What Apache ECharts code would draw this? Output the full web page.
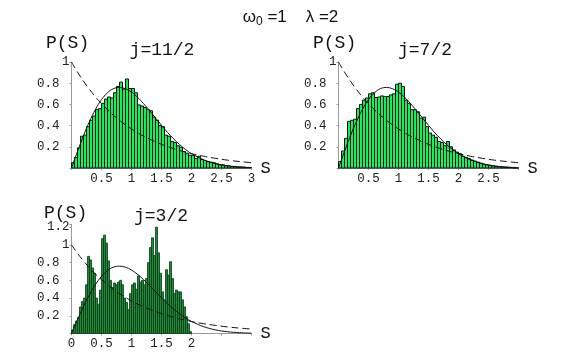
<!DOCTYPE html>
<html><head><meta charset="utf-8">
<script src="https://cdn.jsdelivr.net/npm/echarts@6/dist/echarts.min.js"></script>
<style>html,body{margin:0;padding:0;background:#fff}#c{width:581px;height:359px}</style>
</head><body><div id="c"></div>
<script>
// ---- data ----
const binWidthA = 0.05;           // bins of panels j=11/2 and j=7/2
const histJ11 = [0.05,0.10,0.19,0.30,0.31,0.39,0.45,0.49,0.55,0.56,
                 0.61,0.65,0.67,0.66,0.71,0.77,0.81,0.745,0.84,0.75,
                 0.75,0.71,0.595,0.585,0.57,0.55,0.54,0.48,0.45,0.40,
                 0.39,0.31,0.30,0.25,0.24,0.21,0.195,0.155,0.14,0.12,
                 0.12,0.09,0.11,0.08,0.07,0.06,0.055,0.05,0.04,0.03,
                 0.03,0.022,0.02,0.015,0.015,0.01,0.01,0.008,0.005,0.005];
const histJ7 = [0.06,0.16,0.28,0.44,0.45,0.46,0.56,0.60,0.64,0.66,
                0.70,0.71,0.665,0.67,0.68,0.675,0.675,0.69,0.70,0.79,
                0.80,0.77,0.64,0.61,0.55,0.55,0.53,0.47,0.48,0.39,
                0.33,0.31,0.29,0.25,0.24,0.21,0.25,0.20,0.17,0.15,
                0.135,0.11,0.10,0.09,0.075,0.065,0.055,0.045,0.035,0.03,
                0.025,0.02,0.015,0.012,0.01,0.008,0.006,0.004,0,0];
const binWidthB = 1/30;           // bins of panel j=3/2
const histJ3 = [0.04,0.10,0.14,0.18,0.30,0.36,0.40,0.55,0.87,0.83,
                0.74,0.68,0.40,0.33,0.49,1.07,1.11,1.02,0.82,0.60,
                0.52,0.57,0.55,0.58,0.60,0.55,0.40,0.35,0.27,0.45,
                0.55,0.57,0.50,0.65,0.58,0.60,0.55,0.62,0.80,0.97,
                1.08,0.88,1.20,0.91,0.68,0.47,0.38,0.72,0.66,0.81,
                0.62,0.45,0.49,0.47,0.47,0.38,0.30,0.19,0.11,0.02];
// reference curves (solid and dashed), read at these S values
const curveS  = [0,0.1,0.2,0.3,0.4,0.5,0.6,0.7,0.8,0.9,1.0,1.1,1.2,1.3,1.4,1.5,1.6,1.7,1.8,1.9,2.0,2.2,2.4,2.6,2.8,3.0];
const solidP  = [0,0.156,0.305,0.439,0.554,0.645,0.710,0.749,0.760,0.748,0.716,0.668,0.608,0.542,0.472,0.403,0.336,0.276,0.222,0.175,0.136,0.078,0.041,0.020,0.009,0.004];
const dashedP = [1,0.905,0.819,0.741,0.670,0.607,0.549,0.497,0.449,0.407,0.368,0.333,0.301,0.273,0.247,0.223,0.202,0.183,0.165,0.150,0.135,0.111,0.091,0.074,0.061,0.050];
const yTicks = [0.2,0.4,0.6,0.8,1,1.2];
const panelTitles = ['j=11/2','j=7/2','j=3/2'];
const xLabelShown = [[0.5,1,1.5,2,2.5,3],[0.5,1,1.5,2,2.5],[0,0.5,1,1.5,2]];

const MONO = '"Liberation Mono", "DejaVu Sans Mono", monospace';
const SANS = '"Liberation Sans", Arial, sans-serif';
const chart = echarts.init(document.getElementById('c'), null, {renderer:'canvas'});

const grids = [
  {left:71.5, top:62, width:180, height:106},
  {left:338.5, top:62, width:180, height:106},
  {left:71.5, top:224.5, width:180, height:109}
];
const yMax = [1,1,1.23];

function near(a,b){return Math.abs(a-b)<1e-6;}

const xAxes = grids.map((g,i)=>({
  type:'value', gridIndex:i, min:0, max:3, interval:0.5,
  axisLine:{lineStyle:{color:'#999',width:1}},
  axisTick:{show:true,length:2,lineStyle:{color:'#999'}},
  splitLine:{show:false},
  axisLabel:{fontFamily:MONO,fontSize:12.5,color:'#222',margin:4,
    formatter:v=>xLabelShown[i].some(t=>near(t,v))?String(v):''},
  name:'S', nameLocation:'end', nameGap:9,
  nameTextStyle:{fontFamily:MONO,fontSize:17,color:'#111',verticalAlign:'middle'}
}));
const yAxes = grids.map((g,i)=>({
  type:'value', gridIndex:i, min:0, max:yMax[i], interval:0.2,
  axisLine:{show:true,lineStyle:{color:'#999',width:1}},
  axisTick:{show:true,length:2,lineStyle:{color:'#999'}},
  splitLine:{show:false},
  axisLabel:{fontFamily:MONO,fontSize:12.5,color:'#222',margin:2,
    rich:{p:{fontFamily:MONO,fontSize:12.5,color:'#222',padding:[0,10,0,0]}},
    formatter:v=>{ if(!yTicks.some(t=>near(t,v))) return ''; return v<1?'{p|'+String(v)+'}':String(v);} }
}));

function hist(i, data, bw, fill, stroke, lw){
  return {
    type:'custom', xAxisIndex:i, yAxisIndex:i, silent:true, z:2,
    data:data.map((v,k)=>[k*bw,(k+1)*bw,v]),
    encode:{x:[0,1],y:2},
    renderItem:(params,api)=>{
      const p0 = api.coord([api.value(0), api.value(2)]);
      const p1 = api.coord([api.value(1), 0]);
      return {type:'rect', shape:{x:p0[0],y:p0[1],width:p1[0]-p0[0],height:p1[1]-p0[1]},
        style:{fill:fill,stroke:stroke,lineWidth:lw}};
    }
  };
}
function curve(i, ys, dashed){
  return {type:'line', xAxisIndex:i, yAxisIndex:i, smooth:0.4, symbol:'none', silent:true, z:5,
    data:curveS.map((s,k)=>[s,ys[k]]),
    lineStyle:{color:'#111',width:1,type:dashed?[7,4]:'solid'}};
}

const series = [
  hist(0, histJ11, binWidthA, '#14f05a', '#111', 1),
  hist(1, histJ7, binWidthA, '#14f05a', '#111', 1),
  hist(2, histJ3, binWidthB, '#1e8a3a', '#083a14', 0.8),
];
for(let i=0;i<3;i++){ series.push(curve(i, solidP, false)); series.push(curve(i, dashedP, true)); }

const labelPos = [
  {px:46, py:34, tx:162, ty:41},
  {px:313, py:34, tx:425, ty:41},
  {px:44, py:204, tx:161, ty:207}
];
const graphic = [];
labelPos.forEach((p,i)=>{
  graphic.push({type:'text', left:p.px, top:p.py, style:{text:'P(S)', font:'18px '+MONO, fill:'#111'}});
  graphic.push({type:'text', x:p.tx, y:p.ty, style:{text:panelTitles[i], font:'18px '+MONO, fill:'#111', align:'center', verticalAlign:'top'}});
});

chart.setOption({
  animation:false,
  backgroundColor:'#fff',
  title:{text:'{a|ω}{s|0}{a| =1    λ =2}', left:'center', top:2,
    textStyle:{fontWeight:'normal',
      rich:{a:{fontFamily:SANS,fontSize:17,fontWeight:'normal',color:'#111'},
            s:{fontFamily:SANS,fontSize:12,fontWeight:'normal',color:'#111',verticalAlign:'bottom',padding:[9,0,0,0]}}}},
  grid:grids,
  xAxis:xAxes,
  yAxis:yAxes,
  series:series,
  graphic:graphic
});
</script>
</body></html>
